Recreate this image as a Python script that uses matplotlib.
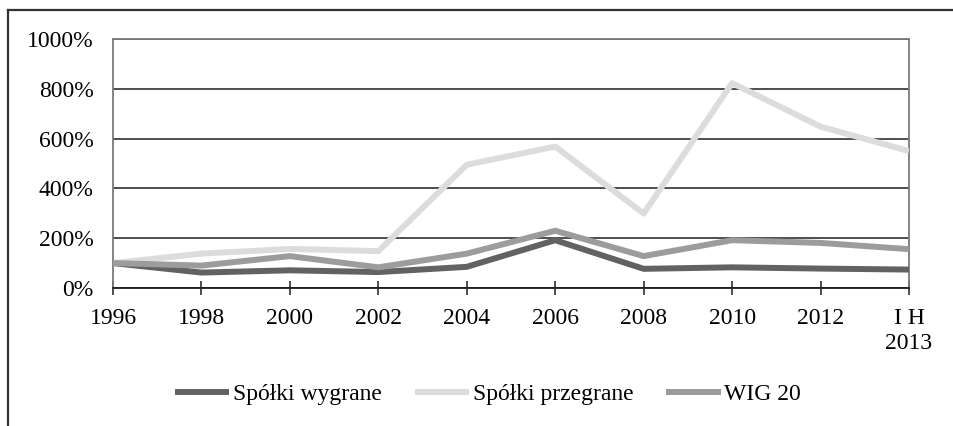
import matplotlib.pyplot as plt
from matplotlib.lines import Line2D
from matplotlib.ticker import FuncFormatter

plt.rcParams['font.family'] = ['Liberation Serif', 'DejaVu Serif']

years = ['1996', '1998', '2000', '2002', '2004', '2006', '2008', '2010', '2012', 'I H\n2013']
wygrane = [100, 62, 71, 64, 85, 192, 77, 83, 78, 74]
przegrane = [100, 138, 157, 148, 495, 568, 299, 823, 648, 550]
wig20 = [100, 90, 128, 83, 138, 230, 128, 192, 181, 156]

fig = plt.figure(figsize=(9.54, 4.26), dpi=100)
ax = fig.add_axes([113 / 954, 1 - 288 / 426, (909 - 113) / 954, (288 - 39) / 426])

x = list(range(len(years)))
ax.plot(x, wygrane, color='#626262', lw=4.3, label='Spółki wygrane', solid_capstyle='butt', zorder=3)
ax.plot(x, przegrane, color='#dcdcdc', lw=4.3, label='Spółki przegrane', solid_capstyle='butt', zorder=3)
ax.plot(x, wig20, color='#9c9c9c', lw=4.3, label='WIG 20', solid_capstyle='butt', zorder=3)

ax.set_xlim(0, len(years) - 1)
ax.set_ylim(0, 1000)
ax.set_yticks(range(0, 1001, 200))
ax.yaxis.set_major_formatter(FuncFormatter(lambda v, p: f'{int(v)}%'))
ax.set_xticks(x)
ax.set_xticklabels(years, linespacing=1.25)
ax.grid(axis='y', color='#1e1e1e', lw=1.1, zorder=1)

ax.tick_params(axis='y', length=0, pad=14, labelsize=17)
ax.tick_params(axis='x', direction='inout', length=10, width=1.1, color='#1e1e1e', pad=9.5, labelsize=17)

for side in ('left', 'top', 'right'):
    ax.spines[side].set_color('#7a7a7a')
    ax.spines[side].set_linewidth(1.3)
ax.spines['bottom'].set_color('#1e1e1e')
ax.spines['bottom'].set_linewidth(1.3)

fig.legend(loc='center', bbox_to_anchor=(488 / 954, 1 - 394 / 426), ncol=3, frameon=False,
           fontsize=17, handlelength=2.3, handletextpad=0.15, columnspacing=1.4)

# outer frame (left and top edges visible)
fig.add_artist(Line2D([8 / 954, 8 / 954], [0, 1 - 10 / 426], color='#333333', lw=1.6))
fig.add_artist(Line2D([8 / 954, 1], [1 - 10 / 426, 1 - 10 / 426], color='#333333', lw=1.6))

fig.savefig('out.png', dpi=100)
